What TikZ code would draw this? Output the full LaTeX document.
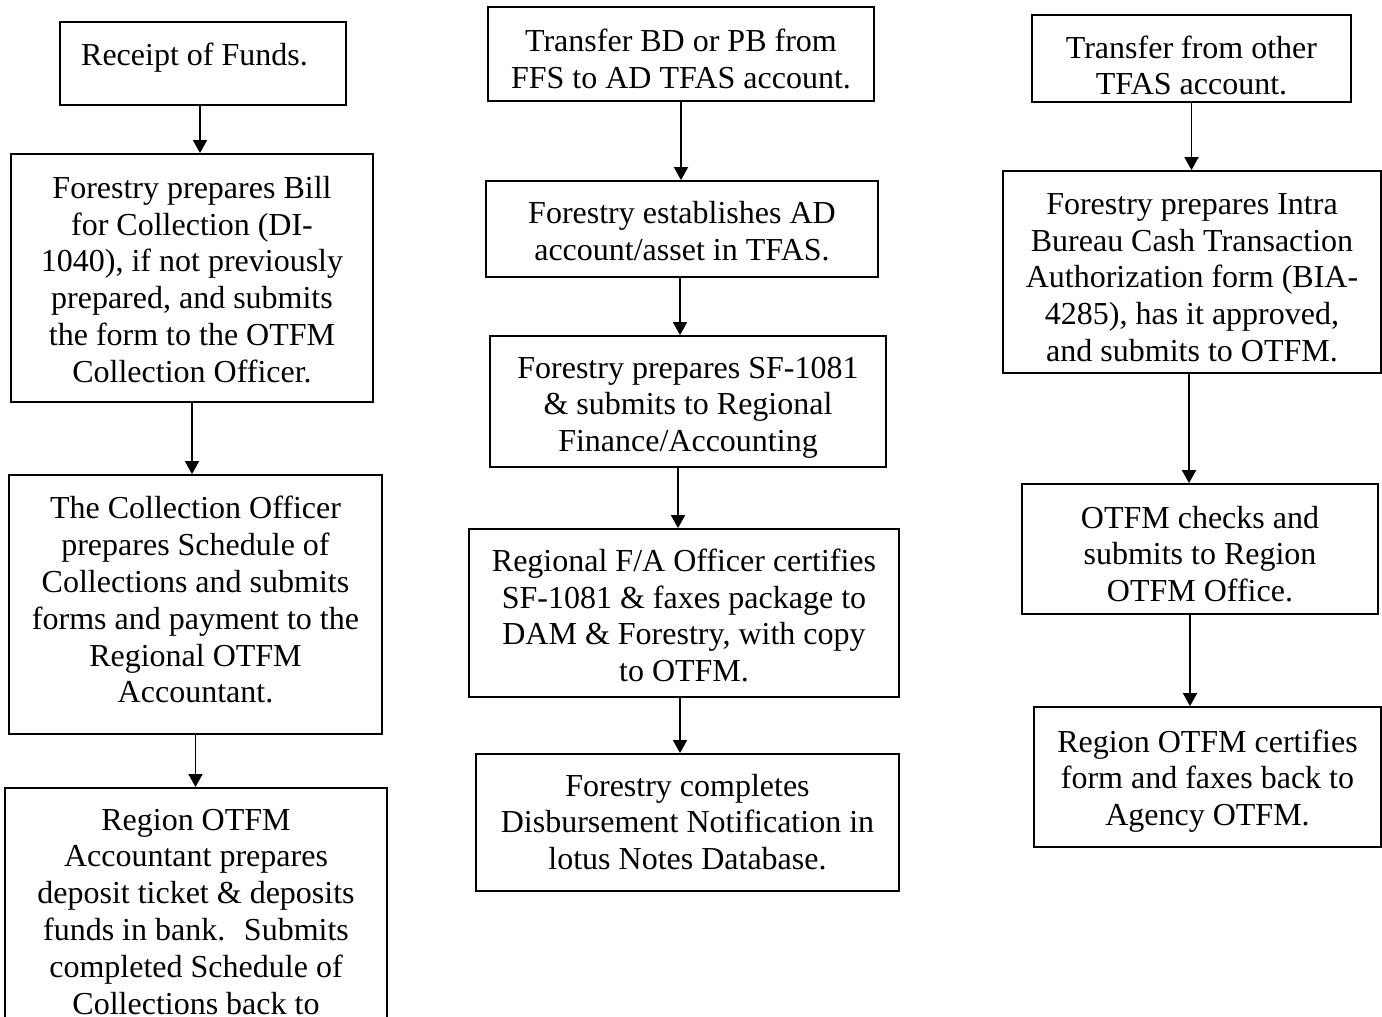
\documentclass[tikz,border=0pt]{standalone}
\usepackage{fontspec}
\setmainfont{Liberation Serif}
\usetikzlibrary{arrows.meta}
\newcommand\boxtext[2]{\raisebox{#1}[\height][\depth]{\begin{tabular}{@{}c@{}}#2\end{tabular}}}
\tikzset{
  box/.style={draw, line width=1.8pt, align=center, inner sep=0pt,
    font=\fontsize{32}{36.8}\selectfont},
  arr/.style={line width=1.8pt, -{Triangle[length=13pt,width=14pt]}},
}
\begin{document}
\begin{tikzpicture}[x=1pt,y=-1pt]
\useasboundingbox (0,0) rectangle (1382,1017);
% column 1
\node[box, minimum width=286pt, minimum height=83pt] (A) at (203,63.5)
  {\raisebox{5.5pt}[\height][\depth]{Receipt of Funds.\hspace{17pt}}};
\node[box, minimum width=362pt, minimum height=248pt] (B) at (192,278)
  {\boxtext{-5pt}{Forestry prepares Bill\\for Collection (DI-\\1040), if not previously\\prepared, and submits\\the form to the OTFM\\Collection Officer.}};
\node[box, minimum width=373pt, minimum height=259pt] (C) at (195.5,604.5)
  {\boxtext{1pt}{The Collection Officer\\prepares Schedule of\\Collections and submits\\forms and payment to the\\Regional OTFM\\Accountant.}};
\node[box, anchor=north, inner ysep=21pt, minimum width=382pt] (D) at (196,787)
  {Region OTFM\\Accountant prepares\\deposit ticket \& deposits\\funds in bank.~ Submits\\completed Schedule of\\Collections back to};
% column 2
\node[box, minimum width=386pt, minimum height=94pt] (E) at (681,54)
  {\boxtext{-8.6pt}{Transfer BD or PB from\\FFS to AD TFAS account.}};
\node[box, minimum width=392pt, minimum height=96pt] (F) at (682,229)
  {\boxtext{-5.6pt}{Forestry establishes AD\\account/asset in TFAS.}};
\node[box, minimum width=396pt, minimum height=131pt] (G) at (688,401.5)
  {\boxtext{-6.1pt}{Forestry prepares SF-1081\\\& submits to Regional\\Finance/Accounting}};
\node[box, minimum width=430pt, minimum height=168pt] (H) at (684,613)
  {\boxtext{-6.1pt}{Regional F/A Officer certifies\\SF-1081 \& faxes package to\\DAM \& Forestry, with copy\\to OTFM.}};
\node[box, minimum width=423pt, minimum height=137pt] (I) at (687.5,822.5)
  {\boxtext{-3.1pt}{Forestry completes\\Disbursement Notification in\\lotus Notes Database.}};
% column 3
\node[box, minimum width=319pt, minimum height=87pt] (J) at (1191.5,58.5)
  {\boxtext{-10.6pt}{Transfer from other\\TFAS account.}};
\node[box, minimum width=378pt, minimum height=202pt] (K) at (1192,272)
  {\boxtext{-8.6pt}{Forestry prepares Intra\\Bureau Cash Transaction\\Authorization form (BIA-\\4285), has it approved,\\and submits to OTFM.}};
\node[box, minimum width=356pt, minimum height=130pt] (L) at (1200,549)
  {\boxtext{-8.6pt}{OTFM checks and\\submits to Region\\OTFM Office.}};
\node[box, minimum width=347pt, minimum height=140pt] (M) at (1207.5,777)
  {\boxtext{-4.6pt}{Region OTFM certifies\\form and faxes back to\\Agency OTFM.}};
% arrows
\draw[arr] ([xshift=-3pt]A.south) -- ([xshift=-3pt]A.south |- B.north);
\draw[arr] (B.south) -- (B.south |- C.north);
\draw[arr] (C.south) -- (C.south |- D.north);
\draw[arr] (E.south) -- (E.south |- F.north);
\draw[arr] ([xshift=-2pt]F.south) -- ([xshift=-2pt]F.south |- G.north);
\draw[arr] ([xshift=-10pt]G.south) -- ([xshift=-10pt]G.south |- H.north);
\draw[arr] ([xshift=-4pt]H.south) -- ([xshift=-4pt]H.south |- I.north);
\draw[arr] (J.south) -- (J.south |- K.north);
\draw[arr] ([xshift=-3pt]K.south) -- ([xshift=-3pt]K.south |- L.north);
\draw[arr] ([xshift=-10pt]L.south) -- ([xshift=-10pt]L.south |- M.north);
\end{tikzpicture}
\end{document}
